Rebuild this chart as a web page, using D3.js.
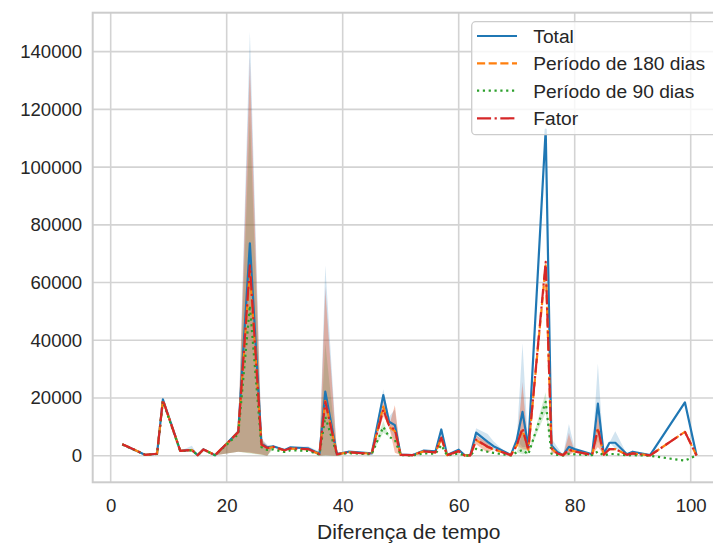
<!DOCTYPE html>
<html>
<head>
<meta charset="utf-8">
<script src="https://cdn.jsdelivr.net/npm/d3@7/dist/d3.min.js"></script>
<style>
  body { margin: 0; background: #ffffff; }
  text { font-family: "Liberation Sans", Arial, sans-serif; fill: #262626; }
</style>
</head>
<body>
<svg id="chart" width="713" height="545"></svg>
<script>
// Days between events (x axis)
const days = [2, 6, 8, 9, 12, 14, 15, 16, 18, 22,
              24, 26, 27, 28, 30, 31, 34, 36, 37, 39,
              41, 45, 47, 48, 49, 50, 52, 54, 56, 57,
              58, 60, 61, 62, 63, 65, 66, 68, 69, 70,
              71, 72, 75, 76, 77, 78, 79, 80, 83, 84,
              85, 86, 87, 89, 90, 93, 99, 101];

// Mean value per day for each series
const total = [4000, 300, 700, 19500, 1700, 2000, 200, 2200, 200, 8300,
               73600, 4200, 2900, 3300, 2000, 2900, 2600, 700, 22200, 600,
               1400, 800, 21000, 11800, 10600, 400, 200, 1800, 1500, 9100,
               300, 2100, 200, 200, 8000, 4800, 3300, 1300, 300, 5400,
               15200, 3000, 113000, 3600, 1300, 200, 3100, 2300, 500, 18100,
               700, 4500, 4500, 500, 1400, 200, 18500, 200];
const periodo180 = [4000, 300, 700, 19300, 1700, 2000, 200, 2200, 200, 8200,
                    64000, 3800, 2600, 3000, 1800, 2500, 2200, 600, 19000, 500,
                    1200, 700, 17000, 10000, 8500, 300, 200, 1500, 1200, 6000,
                    200, 1500, 100, 100, 5400, 3000, 2200, 900, 200, 3500,
                    9000, 2000, 66000, 2500, 800, 200, 2000, 1500, 300, 9000,
                    400, 2300, 2300, 300, 800, 100, 8300, 100];
const periodo90 = [3900, 300, 600, 18800, 1600, 1900, 200, 2100, 200, 7500,
                   52000, 3000, 2000, 2200, 1300, 1900, 1700, 400, 13500, 400,
                   900, 500, 10000, 6500, 5500, 200, 100, 800, 700, 3700,
                   100, 800, 50, 50, 2400, 1400, 1000, 400, 100, 1200,
                   2000, 500, 18700, 700, 300, 100, 700, 500, 200, 1500,
                   100, 600, 600, 100, 200, 0, -1700, 100];
const fator = [4000, 300, 700, 19300, 1700, 2000, 200, 2200, 200, 8200,
               66000, 3900, 2700, 3100, 1900, 2600, 2300, 600, 18700, 500,
               1200, 700, 16000, 10500, 9000, 300, 200, 1500, 1200, 6300,
               200, 1600, 100, 100, 5600, 3100, 2300, 900, 200, 3600,
               9500, 2000, 67200, 2600, 800, 200, 2100, 1500, 300, 9500,
               400, 2300, 2300, 300, 800, 100, 8300, 100];

// 95% confidence intervals [day, low, high]; other days have a collapsed band
const ciTotal = [[14, 1500, 3500], [22, 1400, 9000], [24, 1200, 147000], [26, 500, 6000],
                 [27, 0, 3800], [34, 1800, 3300], [36, 0, 1500], [37, 200, 66000],
                 [39, 0, 1200], [47, 18500, 23000], [48, 9500, 13500], [49, 5000, 16000],
                 [63, 6500, 9500], [65, 2500, 7500], [66, 2000, 5000], [71, 3000, 39000],
                 [76, 1500, 6000], [77, 500, 3000], [79, 500, 11000], [84, 5000, 32000],
                 [87, 2500, 8500]];
const ci180 = [[22, 1400, 9000], [24, 1000, 132000], [26, 400, 5500], [27, 0, 3500],
               [36, 0, 1400], [37, 200, 56000], [39, 0, 1100], [47, 14000, 19500],
               [49, 1000, 17500], [63, 4000, 7000], [65, 1000, 4500], [71, 2000, 24000],
               [76, 800, 4500], [79, 200, 7000], [84, 3000, 14000]];
const ci90 = [[22, 1400, 8500], [24, 800, 118000], [26, 300, 4500], [27, 0, 3000],
              [36, 0, 1000], [37, 100, 39000], [39, 0, 900], [47, 8000, 12000],
              [71, 500, 8000], [75, 15000, 22000]];
const ciFator = [[22, 1400, 9000], [24, 1000, 138000], [26, 400, 5500], [27, 0, 3500],
                 [36, 0, 1400], [37, 200, 58600], [39, 0, 1100], [47, 13500, 19000],
                 [49, 1000, 17500], [63, 4000, 7000], [65, 1000, 4500], [71, 2500, 25600],
                 [76, 800, 4500], [79, 200, 8000], [84, 3000, 14500]];

const seriesNames = ["Total", "Período de 180 dias", "Período de 90 dias", "Fator"];
const xTicks = [0, 20, 40, 60, 80, 100];
const yTicks = [0, 20000, 40000, 60000, 80000, 100000, 120000, 140000];
const xLabel = "Diferença de tempo";

const colors = ["#1f77b4", "#ff7f0e", "#2ca02c", "#d62728"];
const lw = 2.2;
const dashes = [null, [3.7, 1.6], [1, 1.65], [6.4, 1.6, 1, 1.6]].map(d => d ? d.map(v => v * lw).join(",") : null);

const series = [total, periodo180, periodo90, fator].map((vals, i) => {
  const ci = new Map([ciTotal, ci180, ci90, ciFator][i].map(r => [r[0], r]));
  return {
    name: seriesNames[i],
    color: colors[i],
    dash: dashes[i],
    points: days.map((d, j) => {
      const c = ci.get(d);
      return { x: d, y: vals[j], lo: c ? c[1] : vals[j], hi: c ? c[2] : vals[j] };
    })
  };
});

const svg = d3.select("#chart");
const plotLeft = 92.7, plotTop = 12.7, plotBottom = 482.3;
const x = d3.scaleLinear().domain([-3.1, 106]).range([plotLeft, 110.7 + 106 * 5.8]);
const y = d3.scaleLinear().domain([-9200, 153500]).range([plotBottom, plotTop]);
const plotRight = x.range()[1];

svg.append("defs").append("clipPath").attr("id", "plotclip")
  .append("rect").attr("x", plotLeft).attr("y", plotTop)
  .attr("width", plotRight - plotLeft).attr("height", plotBottom - plotTop);

// grid
const grid = svg.append("g").attr("stroke", "#d3d3d3").attr("stroke-width", 1.6);
grid.selectAll(".gx").data(xTicks).join("line")
  .attr("x1", d => x(d)).attr("x2", d => x(d)).attr("y1", plotTop).attr("y2", plotBottom);
grid.selectAll(".gy").data(yTicks).join("line")
  .attr("y1", d => y(d)).attr("y2", d => y(d)).attr("x1", plotLeft).attr("x2", plotRight);

// frame
svg.append("rect").attr("x", plotLeft).attr("y", plotTop)
  .attr("width", plotRight - plotLeft).attr("height", plotBottom - plotTop)
  .attr("fill", "none").attr("stroke", "#cccccc").attr("stroke-width", 2);

// axes
const xAxis = d3.axisBottom(x).tickValues(xTicks).tickFormat(d3.format("d")).tickSize(0).tickPadding(16);
const yAxis = d3.axisLeft(y).tickValues(yTicks).tickFormat(d3.format("d")).tickSize(0).tickPadding(10.5);
const gx = svg.append("g").attr("transform", `translate(0,${plotBottom})`).call(xAxis);
const gy = svg.append("g").attr("transform", `translate(${plotLeft},0)`).call(yAxis);
[gx, gy].forEach(g => {
  g.select(".domain").remove();
  g.selectAll("text").style("font-size", "18.6px")
    .style("font-family", '"Liberation Sans", Arial, sans-serif').attr("fill", "#262626");
});

svg.append("text").attr("x", (x(0) + x(100)) / 2 + 8).attr("y", 539)
  .attr("text-anchor", "middle").style("font-size", "21px").text(xLabel);

// bands then lines
const plot = svg.append("g").attr("clip-path", "url(#plotclip)");
const area = d3.area().x(d => x(d.x)).y0(d => y(d.lo)).y1(d => y(d.hi));
const line = d3.line().x(d => x(d.x)).y(d => y(d.y));

plot.selectAll(".band").data(series).join("path")
  .attr("d", s => area(s.points)).attr("fill", s => s.color).attr("fill-opacity", 0.2).attr("stroke", "none");

plot.selectAll(".line").data(series).join("path")
  .attr("d", s => line(s.points)).attr("fill", "none").attr("stroke", s => s.color)
  .attr("stroke-width", lw).attr("stroke-dasharray", s => s.dash)
  .attr("stroke-linejoin", "round");

// legend
const lg = svg.append("g");
lg.append("rect").attr("x", 471.7).attr("y", 21.7).attr("width", 246).attr("height", 113).attr("rx", 4)
  .attr("fill", "#ffffff").attr("fill-opacity", 0.8).attr("stroke", "#cccccc").attr("stroke-width", 1.3);
const rowY = [36, 63.3, 90.7, 118.3];
series.forEach((s, i) => {
  lg.append("line").attr("x1", 477).attr("x2", 517).attr("y1", rowY[i]).attr("y2", rowY[i])
    .attr("stroke", s.color).attr("stroke-width", lw).attr("stroke-dasharray", s.dash);
  lg.append("text").attr("x", 533.3).attr("y", rowY[i]).attr("dy", "0.36em")
    .style("font-size", "19.2px").text(s.name);
});
</script>
</body>
</html>
